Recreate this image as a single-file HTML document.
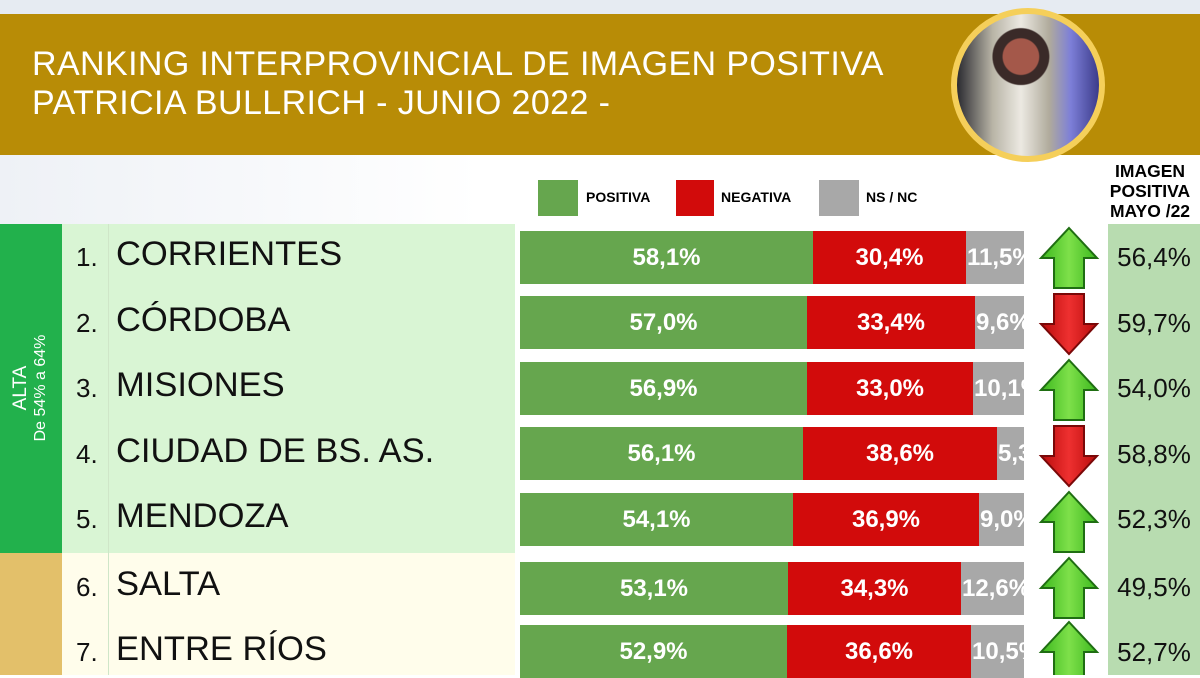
<!DOCTYPE html>
<html><head><meta charset="utf-8"><style>
*{margin:0;padding:0;box-sizing:border-box}
body{width:1200px;height:675px;overflow:hidden;background:#fff;font-family:"Liberation Sans",sans-serif;position:relative}
.a{position:absolute}
.bar{position:absolute;left:520px;height:53px;display:flex;width:504px}
.bar div{height:100%;color:#fff;font-weight:bold;font-size:24px;display:flex;align-items:center;justify-content:center;overflow:hidden;white-space:nowrap}
.bar div.n{justify-content:flex-start;padding-left:1px}
.g{background:#66a64e}.r{background:#d20b0b}.n{background:#a8a8a8}
.name{position:absolute;left:116px;font-size:34.5px;color:#111}
.num{position:absolute;left:76px;font-size:26px;color:#111}
.val{position:absolute;left:1108px;width:92px;text-align:center;font-size:26px;color:#111}
</style></head><body>
<div class="a" style="left:0;top:0;width:1200px;height:14px;background:#e6ebf2"></div>
<div class="a" style="left:0;top:14px;width:1200px;height:141px;background:#b88c06"></div>
<div class="a" style="left:0;top:155px;width:1200px;height:70px;background:linear-gradient(90deg,#eef1f6,#fff 40%)"></div>
<div class="a" style="left:32px;top:45px;color:#fff;font-size:34px;line-height:39px;letter-spacing:0.4px">RANKING INTERPROVINCIAL DE IMAGEN POSITIVA<br>PATRICIA BULLRICH - JUNIO 2022 -</div>
<div class="a" style="left:951px;top:8px;width:154px;height:154px;border-radius:50%;border:6px solid #f5cf5a;background:radial-gradient(circle at 45% 30%,#a4584a 0 14%,#3a2a28 15% 22%,transparent 23%),linear-gradient(90deg,#2a2a30 0%,#b8b4a6 25%,#ece9e2 45%,#b0ab9c 65%,#7d7fd8 80%,#3b3b8a 100%)"></div>
<div class="a" style="left:538px;top:180px;width:40px;height:36px;background:#66a64e"></div>
<div class="a" style="left:586px;top:189px;font-size:14px;font-weight:bold">POSITIVA</div>
<div class="a" style="left:676px;top:180px;width:38px;height:36px;background:#d20b0b"></div>
<div class="a" style="left:721px;top:189px;font-size:14px;font-weight:bold">NEGATIVA</div>
<div class="a" style="left:819px;top:180px;width:40px;height:36px;background:#a8a8a8"></div>
<div class="a" style="left:866px;top:189px;font-size:14px;font-weight:bold">NS / NC</div>
<div class="a" style="left:1098px;top:161px;width:104px;text-align:center;font-size:17.5px;font-weight:bold;line-height:20px">IMAGEN<br>POSITIVA<br>MAYO /22</div>
<div class="a" style="left:0;top:224px;width:62px;height:329px;background:#22b14c"></div>
<div class="a" style="left:0;top:553px;width:62px;height:122px;background:#e3c06a"></div>
<div class="a" style="left:31px;top:388px;transform:translate(-50%,-50%) rotate(-90deg);color:#fff;text-align:center;white-space:nowrap;line-height:20px"><div style="font-size:19px">ALTA</div><div style="font-size:16px">De 54% a 64%</div></div>
<div class="a" style="left:62px;top:224px;width:453px;height:329px;background:#d9f5d4"></div>
<div class="a" style="left:62px;top:553px;width:453px;height:122px;background:#fffdeb"></div>
<div class="a" style="left:108px;top:224px;width:1px;height:451px;background:#cfe6c8"></div>
<div class="a" style="left:1108px;top:224px;width:92px;height:451px;background:#b8dcb0"></div>

<div class="num" style="top:242px">1.</div><div class="name" style="top:235px">CORRIENTES</div>
<div class="bar" style="top:231px"><div class="g" style="width:293px">58,1%</div><div class="r" style="width:153px">30,4%</div><div class="n" style="width:58px">11,5%</div></div>
<div class="val" style="top:242px">56,4%</div>

<div class="num" style="top:308px">2.</div><div class="name" style="top:301px">CÓRDOBA</div>
<div class="bar" style="top:296px"><div class="g" style="width:287px">57,0%</div><div class="r" style="width:168px">33,4%</div><div class="n" style="width:49px">9,6%</div></div>
<div class="val" style="top:308px">59,7%</div>

<div class="num" style="top:373px">3.</div><div class="name" style="top:366px">MISIONES</div>
<div class="bar" style="top:362px"><div class="g" style="width:287px">56,9%</div><div class="r" style="width:166px">33,0%</div><div class="n" style="width:51px">10,1%</div></div>
<div class="val" style="top:373px">54,0%</div>

<div class="num" style="top:439px">4.</div><div class="name" style="top:432px">CIUDAD DE BS. AS.</div>
<div class="bar" style="top:427px"><div class="g" style="width:283px">56,1%</div><div class="r" style="width:194px">38,6%</div><div class="n" style="width:27px">5,3%</div></div>
<div class="val" style="top:439px">58,8%</div>

<div class="num" style="top:504px">5.</div><div class="name" style="top:497px">MENDOZA</div>
<div class="bar" style="top:493px"><div class="g" style="width:273px">54,1%</div><div class="r" style="width:186px">36,9%</div><div class="n" style="width:45px">9,0%</div></div>
<div class="val" style="top:504px">52,3%</div>

<div class="num" style="top:572px">6.</div><div class="name" style="top:565px">SALTA</div>
<div class="bar" style="top:562px"><div class="g" style="width:268px">53,1%</div><div class="r" style="width:173px">34,3%</div><div class="n" style="width:63px">12,6%</div></div>
<div class="val" style="top:572px">49,5%</div>

<div class="num" style="top:637px">7.</div><div class="name" style="top:630px">ENTRE RÍOS</div>
<div class="bar" style="top:625px"><div class="g" style="width:267px">52,9%</div><div class="r" style="width:184px">36,6%</div><div class="n" style="width:53px">10,5%</div></div>
<div class="val" style="top:637px">52,7%</div>

<svg class="a" style="left:1038px;top:224px" width="62" height="451" viewBox="0 0 62 451">
<defs>
<linearGradient id="gu" x1="0" x2="1"><stop offset="0" stop-color="#3cb81e"/><stop offset=".5" stop-color="#7ee04a"/><stop offset="1" stop-color="#3cb81e"/></linearGradient>
<linearGradient id="rd" x1="0" x2="1"><stop offset="0" stop-color="#b80c0c"/><stop offset=".5" stop-color="#ee3030"/><stop offset="1" stop-color="#b80c0c"/></linearGradient>
<path id="up" d="M31 2 L59 32 L46 32 L46 62 L16 62 L16 32 L3 32 Z" fill="url(#gu)" stroke="#1f6e12" stroke-width="2"/>
<path id="dn" d="M16 2 L46 2 L46 32 L59 32 L31 62 L3 32 L16 32 Z" fill="url(#rd)" stroke="#7a0808" stroke-width="2"/>
</defs>
<use href="#up" y="2"/>
<use href="#dn" y="68"/>
<use href="#up" y="134"/>
<use href="#dn" y="200"/>
<use href="#up" y="266"/>
<use href="#up" y="332"/>
<use href="#up" y="396"/>
</svg>
</body></html>
